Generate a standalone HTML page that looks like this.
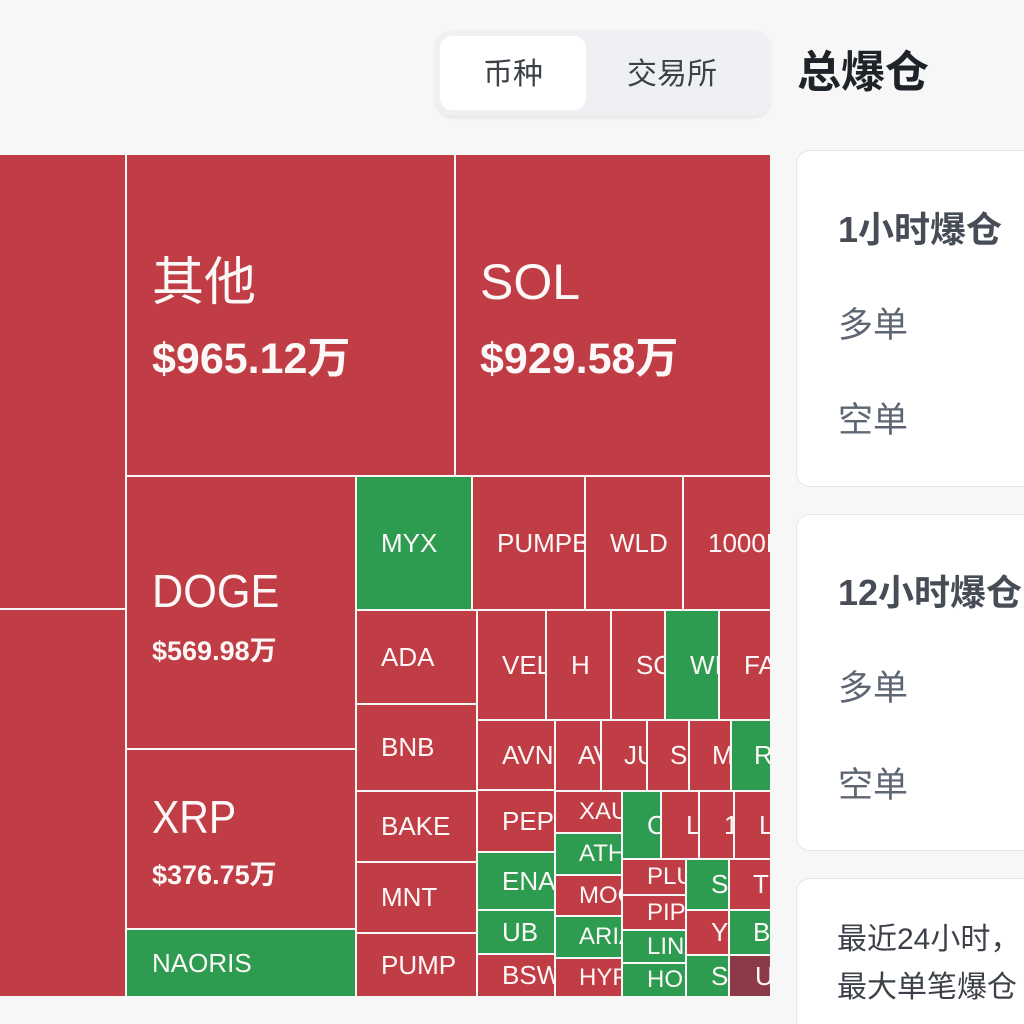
<!DOCTYPE html>
<html>
<head>
<meta charset="utf-8">
<style>
  html,body{margin:0;padding:0;width:1024px;height:1024px;overflow:hidden;background:#f7f7f7;}
  #wrap{position:relative;width:1024px;height:1024px;overflow:hidden;background:#f7f7f7;
       font-family:"Liberation Sans","Noto Sans CJK SC",sans-serif;}
  .b{position:absolute;overflow:hidden;display:flex;align-items:center;padding-left:24px;box-sizing:border-box;
     color:#fdf8f8;font-size:26px;white-space:nowrap;}
  .r{background:#c13d46;}
  .g{background:#2e9c50;}
  .d{background:#8c3a48;}
  .f26{font-size:26px;}
  .f22{font-size:24px;}
  .t{position:absolute;color:#fdf8f8;white-space:nowrap;}
  .tabs{position:absolute;left:435px;top:30px;width:336px;height:86px;background:#eef0f3;border-radius:18px;
        box-shadow:0 2px 3px rgba(0,0,0,0.08);}
  .sel{position:absolute;left:5px;top:6px;width:146px;height:74px;background:#fff;border-radius:12px;}
  .tt{position:absolute;font-size:30px;line-height:30px;color:#3d4148;}
  .card{position:absolute;left:796px;width:280px;background:#fff;border:1.5px solid #e4e6e9;border-radius:14px;box-sizing:border-box;}
  .ct{position:absolute;left:838px;font-size:36px;line-height:36px;font-weight:bold;color:#474d57;white-space:nowrap;}
  .cs{position:absolute;left:838px;font-size:35px;line-height:35px;color:#5e6673;white-space:nowrap;}
  .c3{position:absolute;left:837px;font-size:30px;line-height:30px;color:#3c4048;white-space:nowrap;}
</style>
</head>
<body>
<div id="wrap">

<!-- header -->
<div class="tabs"><div class="sel"></div></div>
<div class="tt" style="left:483px;top:60px;">币种</div>
<div class="tt" style="left:627px;top:60px;">交易所</div>
<div style="position:absolute;left:797px;top:51px;font-size:44px;line-height:44px;font-weight:bold;color:#1e2329;">总爆仓</div>

<!-- treemap -->
<div class="b r" style="left:0;top:155px;width:125px;height:453px;"></div>
<div class="b r" style="left:0;top:610px;width:125px;height:386px;"></div>
<div class="b r" style="left:127px;top:155px;width:327px;height:320px;"></div>
<div class="b r" style="left:456px;top:155px;width:314px;height:320px;"></div>
<div class="b r" style="left:127px;top:477px;width:228px;height:271px;"></div>
<div class="b r" style="left:127px;top:750px;width:228px;height:178px;"></div>
<div class="b g f26" style="left:127px;top:930px;width:228px;height:66px;padding-left:25px;">NAORIS</div>

<div class="b g f26" style="left:357px;top:477px;width:114px;height:132px;">MYX</div>
<div class="b r f26" style="left:473px;top:477px;width:111px;height:132px;">PUMPBTC</div>
<div class="b r f26" style="left:586px;top:477px;width:96px;height:132px;">WLD</div>
<div class="b r f26" style="left:684px;top:477px;width:86px;height:132px;">1000PEPE</div>

<div class="b r f26" style="left:357px;top:611px;width:119px;height:92px;">ADA</div>
<div class="b r f26" style="left:357px;top:705px;width:119px;height:85px;">BNB</div>
<div class="b r f26" style="left:357px;top:792px;width:119px;height:69px;">BAKE</div>
<div class="b r f26" style="left:357px;top:863px;width:119px;height:69px;">MNT</div>
<div class="b r f26" style="left:357px;top:934px;width:119px;height:62px;">PUMP</div>

<div class="b r" style="left:478px;top:611px;width:67px;height:108px;">VELO</div>
<div class="b r" style="left:547px;top:611px;width:63px;height:108px;">H</div>
<div class="b r" style="left:612px;top:611px;width:52px;height:108px;">SOPH</div>
<div class="b g" style="left:666px;top:611px;width:52px;height:108px;">WIF</div>
<div class="b r" style="left:720px;top:611px;width:50px;height:108px;">FARTCOIN</div>

<div class="b r" style="left:478px;top:721px;width:76px;height:68px;">AVNT</div>
<div class="b r" style="left:556px;top:721px;width:44px;height:69px;padding-left:22px;">AVAX</div>
<div class="b r" style="left:602px;top:721px;width:44px;height:69px;padding-left:22px;">JUP</div>
<div class="b r" style="left:648px;top:721px;width:40px;height:69px;padding-left:22px;">SUI</div>
<div class="b r" style="left:690px;top:721px;width:40px;height:69px;padding-left:22px;">MEME</div>
<div class="b g" style="left:732px;top:721px;width:38px;height:69px;padding-left:22px;">RENDER</div>

<div class="b r" style="left:478px;top:791px;width:76px;height:60px;">PEPE</div>
<div class="b g" style="left:478px;top:853px;width:76px;height:56px;">ENA</div>
<div class="b g" style="left:478px;top:911px;width:76px;height:42px;">UB</div>
<div class="b r" style="left:478px;top:955px;width:76px;height:41px;">BSW</div>

<div class="b r f22" style="left:556px;top:792px;width:65px;height:40px;padding-left:23px;">XAUT</div>
<div class="b g f22" style="left:556px;top:834px;width:65px;height:40px;padding-left:23px;">ATH</div>
<div class="b r f22" style="left:556px;top:876px;width:65px;height:39px;padding-left:23px;">MOODENG</div>
<div class="b g f22" style="left:556px;top:917px;width:65px;height:40px;padding-left:23px;">ARIA</div>
<div class="b r f22" style="left:556px;top:959px;width:65px;height:37px;padding-left:23px;">HYPE</div>

<div class="b g" style="left:623px;top:792px;width:37px;height:66px;">CRV</div>
<div class="b r" style="left:662px;top:792px;width:36px;height:66px;">LTC</div>
<div class="b r" style="left:700px;top:792px;width:33px;height:66px;">1000BONK</div>
<div class="b r" style="left:735px;top:792px;width:35px;height:66px;">LDO</div>

<div class="b r f22" style="left:623px;top:860px;width:62px;height:34px;">PLUME</div>
<div class="b r f22" style="left:623px;top:896px;width:62px;height:33px;">PIPPIN</div>
<div class="b g f22" style="left:623px;top:931px;width:62px;height:31px;">LINEA</div>
<div class="b g f22" style="left:623px;top:964px;width:62px;height:32px;">HOME</div>

<div class="b g" style="left:687px;top:860px;width:41px;height:49px;">SKY</div>
<div class="b r" style="left:730px;top:860px;width:40px;height:49px;padding-left:23px;">TRUMP</div>
<div class="b r" style="left:687px;top:911px;width:41px;height:43px;">YGG</div>
<div class="b g" style="left:730px;top:911px;width:40px;height:43px;padding-left:23px;">BIO</div>
<div class="b g" style="left:687px;top:956px;width:41px;height:40px;">SPK</div>
<div class="b d" style="left:730px;top:956px;width:40px;height:40px;padding-left:25px;">USELESS</div>

<!-- big labels -->
<div class="t" style="left:152px;top:257px;font-size:52px;line-height:52px;">其他</div>
<div class="t" style="left:152px;top:338px;font-size:43px;line-height:43px;font-weight:bold;">$965.12万</div>

<div class="t" style="left:480px;top:257px;font-size:50px;line-height:50px;">SOL</div>
<div class="t" style="left:480px;top:338px;font-size:43px;line-height:43px;font-weight:bold;">$929.58万</div>

<div class="t" style="left:152px;top:568px;font-size:46px;line-height:46px;transform:scaleX(0.94);transform-origin:left center;">DOGE</div>
<div class="t" style="left:152px;top:638px;font-size:27px;line-height:27px;font-weight:bold;">$569.98万</div>

<div class="t" style="left:152px;top:794px;font-size:46px;line-height:46px;transform:scaleX(0.89);transform-origin:left center;">XRP</div>
<div class="t" style="left:152px;top:862px;font-size:27px;line-height:27px;font-weight:bold;">$376.75万</div>

<!-- right cards -->
<div class="card" style="top:150px;height:337px;"></div>
<div class="ct" style="top:212px;">1小时爆仓</div>
<div class="cs" style="top:308px;">多单</div>
<div class="cs" style="top:403px;">空单</div>

<div class="card" style="top:514px;height:337px;"></div>
<div class="ct" style="top:575px;">12小时爆仓</div>
<div class="cs" style="top:671px;">多单</div>
<div class="cs" style="top:768px;">空单</div>

<div class="card" style="top:878px;height:160px;"></div>
<div class="c3" style="top:925px;">最近24小时，</div>
<div class="c3" style="top:973px;">最大单笔爆仓</div>

</div>
</body>
</html>
